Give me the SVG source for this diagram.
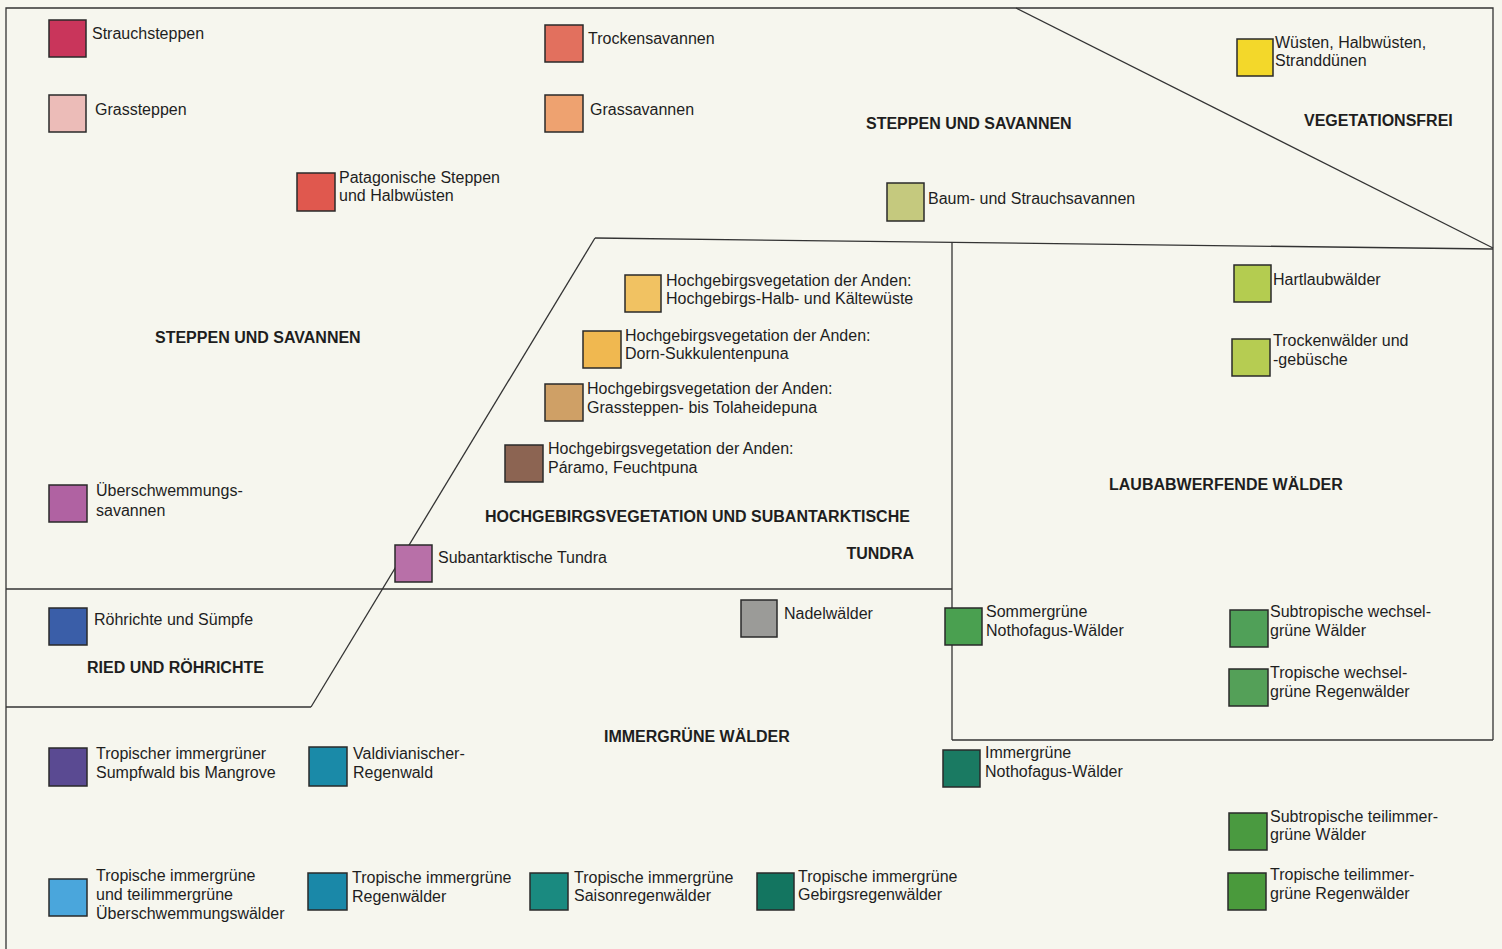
<svg xmlns="http://www.w3.org/2000/svg" width="1502" height="949" viewBox="0 0 1502 949">
<style>
.bg{fill:#f6f6ee}
.ln{fill:none;stroke:#333;stroke-width:1.3}
.sw{stroke:#2a2a2a;stroke-width:1.5}
.t{font-family:"Liberation Sans",Arial,Helvetica,sans-serif;font-size:16px;fill:#1e1e1e}
.h{font-family:"Liberation Sans",Arial,Helvetica,sans-serif;font-size:16px;font-weight:bold;fill:#1e1e1e}
</style>
<rect class="bg" x="0" y="0" width="1502" height="949"/>
<g id="connectors">
<polyline class="ln" points="6,949 6,8 1493,8 1493,740"/>
<line class="ln" x1="1016" y1="8" x2="1493" y2="248"/>
<line class="ln" x1="595" y1="238" x2="1493" y2="249"/>
<line class="ln" x1="595" y1="238" x2="311" y2="707"/>
<line class="ln" x1="6" y1="707" x2="311" y2="707"/>
<line class="ln" x1="6" y1="589" x2="952" y2="589"/>
<line class="ln" x1="952" y1="242" x2="952" y2="740"/>
<line class="ln" x1="952" y1="740" x2="1493" y2="740"/>
</g>
<g id="labels">
<text class="h" x="866" y="129">STEPPEN UND SAVANNEN</text>
<text class="h" x="1304" y="126">VEGETATIONSFREI</text>
<text class="h" x="155" y="343">STEPPEN UND SAVANNEN</text>
<text class="h" x="1109" y="490">LAUBABWERFENDE WÄLDER</text>
<text class="h" x="485" y="522">HOCHGEBIRGSVEGETATION UND SUBANTARKTISCHE</text>
<text class="h" x="914" y="559" text-anchor="end">TUNDRA</text>
<text class="h" x="87" y="673">RIED UND RÖHRICHTE</text>
<text class="h" x="604" y="742">IMMERGRÜNE WÄLDER</text>
</g>
<g id="n-strauchsteppen"><rect class="sw" x="49" y="20" width="37" height="37" fill="#c9355b"/><text class="t" x="92" y="39">Strauchsteppen</text></g>
<g id="n-grassteppen"><rect class="sw" x="49" y="95" width="37" height="37" fill="#ecbcb8"/><text class="t" x="95" y="115">Grassteppen</text></g>
<g id="n-patagonische"><rect class="sw" x="297" y="173" width="38" height="38" fill="#e0584e"/><text class="t" x="339" y="183">Patagonische Steppen</text><text class="t" x="339" y="201">und Halbwüsten</text></g>
<g id="n-trockensavannen"><rect class="sw" x="545" y="25" width="38" height="37" fill="#e2705e"/><text class="t" x="588" y="44">Trockensavannen</text></g>
<g id="n-grassavannen"><rect class="sw" x="545" y="95" width="38" height="37" fill="#eea270"/><text class="t" x="590" y="115">Grassavannen</text></g>
<g id="n-baumsavannen"><rect class="sw" x="887" y="183" width="37" height="38" fill="#c5c97e"/><text class="t" x="928" y="204">Baum- und Strauchsavannen</text></g>
<g id="n-wuesten"><rect class="sw" x="1237" y="39" width="36" height="37" fill="#f3d82a"/><text class="t" x="1275" y="48">Wüsten, Halbwüsten,</text><text class="t" x="1275" y="66">Stranddünen</text></g>
<g id="n-hartlaub"><rect class="sw" x="1234" y="265" width="37" height="37" fill="#b4cc50"/><text class="t" x="1273" y="285">Hartlaubwälder</text></g>
<g id="n-trockenwaelder"><rect class="sw" x="1232" y="339" width="38" height="37" fill="#b6cc52"/><text class="t" x="1273" y="346">Trockenwälder und</text><text class="t" x="1273" y="365">-gebüsche</text></g>
<g id="n-hoch1"><rect class="sw" x="625" y="275" width="36" height="37" fill="#f1c262"/><text class="t" x="666" y="286">Hochgebirgsvegetation der Anden:</text><text class="t" x="666" y="304">Hochgebirgs-Halb- und Kältewüste</text></g>
<g id="n-hoch2"><rect class="sw" x="583" y="331" width="38" height="37" fill="#f0b850"/><text class="t" x="625" y="341">Hochgebirgsvegetation der Anden:</text><text class="t" x="625" y="359">Dorn-Sukkulentenpuna</text></g>
<g id="n-hoch3"><rect class="sw" x="545" y="384" width="38" height="37" fill="#cfa066"/><text class="t" x="587" y="394">Hochgebirgsvegetation der Anden:</text><text class="t" x="587" y="413">Grassteppen- bis Tolaheidepuna</text></g>
<g id="n-hoch4"><rect class="sw" x="505" y="445" width="38" height="37" fill="#8c6452"/><text class="t" x="548" y="454">Hochgebirgsvegetation der Anden:</text><text class="t" x="548" y="473">Páramo, Feuchtpuna</text></g>
<g id="n-ueberschwemmungssavannen"><rect class="sw" x="49" y="485" width="38" height="37" fill="#b062a2"/><text class="t" x="96" y="496">Überschwemmungs-</text><text class="t" x="96" y="516">savannen</text></g>
<g id="n-tundra"><rect class="sw" x="395" y="545" width="37" height="37" fill="#b870a8"/><text class="t" x="438" y="563">Subantarktische Tundra</text></g>
<g id="n-roehrichte"><rect class="sw" x="49" y="608" width="38" height="37" fill="#3a5ea8"/><text class="t" x="94" y="625">Röhrichte und Sümpfe</text></g>
<g id="n-nadelwaelder"><rect class="sw" x="741" y="600" width="36" height="37" fill="#9b9b98"/><text class="t" x="784" y="619">Nadelwälder</text></g>
<g id="n-sommergruene"><rect class="sw" x="945" y="608" width="37" height="37" fill="#4aa050"/><text class="t" x="986" y="617">Sommergrüne</text><text class="t" x="986" y="636">Nothofagus-Wälder</text></g>
<g id="n-subtrop-wechsel"><rect class="sw" x="1230" y="610" width="38" height="37" fill="#50a058"/><text class="t" x="1270" y="617">Subtropische wechsel-</text><text class="t" x="1270" y="636">grüne Wälder</text></g>
<g id="n-trop-wechsel"><rect class="sw" x="1229" y="669" width="39" height="37" fill="#54a058"/><text class="t" x="1270" y="678">Tropische wechsel-</text><text class="t" x="1270" y="697">grüne Regenwälder</text></g>
<g id="n-sumpfwald"><rect class="sw" x="49" y="748" width="38" height="38" fill="#5a4a92"/><text class="t" x="96" y="759">Tropischer immergrüner</text><text class="t" x="96" y="778">Sumpfwald bis Mangrove</text></g>
<g id="n-valdivianisch"><rect class="sw" x="309" y="747" width="38" height="39" fill="#1a8aa8"/><text class="t" x="353" y="759">Valdivianischer-</text><text class="t" x="353" y="778">Regenwald</text></g>
<g id="n-immergruene-notho"><rect class="sw" x="943" y="750" width="37" height="37" fill="#1a7a62"/><text class="t" x="985" y="758">Immergrüne</text><text class="t" x="985" y="777">Nothofagus-Wälder</text></g>
<g id="n-subtrop-teil"><rect class="sw" x="1229" y="813" width="38" height="37" fill="#4a9a40"/><text class="t" x="1270" y="822">Subtropische teilimmer-</text><text class="t" x="1270" y="840">grüne Wälder</text></g>
<g id="n-trop-teil"><rect class="sw" x="1228" y="873" width="38" height="37" fill="#4a9a3c"/><text class="t" x="1270" y="880">Tropische teilimmer-</text><text class="t" x="1270" y="899">grüne Regenwälder</text></g>
<g id="n-ueberschwemmungswaelder"><rect class="sw" x="49" y="879" width="38" height="37" fill="#4aa6dc"/><text class="t" x="96" y="881">Tropische immergrüne</text><text class="t" x="96" y="900">und teilimmergrüne</text><text class="t" x="96" y="919">Überschwemmungswälder</text></g>
<g id="n-regenwaelder"><rect class="sw" x="308" y="873" width="39" height="37" fill="#1a88a8"/><text class="t" x="352" y="883">Tropische immergrüne</text><text class="t" x="352" y="902">Regenwälder</text></g>
<g id="n-saison"><rect class="sw" x="530" y="873" width="38" height="37" fill="#1a8a80"/><text class="t" x="574" y="883">Tropische immergrüne</text><text class="t" x="574" y="901">Saisonregenwälder</text></g>
<g id="n-gebirgs"><rect class="sw" x="757" y="873" width="37" height="37" fill="#137560"/><text class="t" x="798" y="882">Tropische immergrüne</text><text class="t" x="798" y="900">Gebirgsregenwälder</text></g>
</svg>
